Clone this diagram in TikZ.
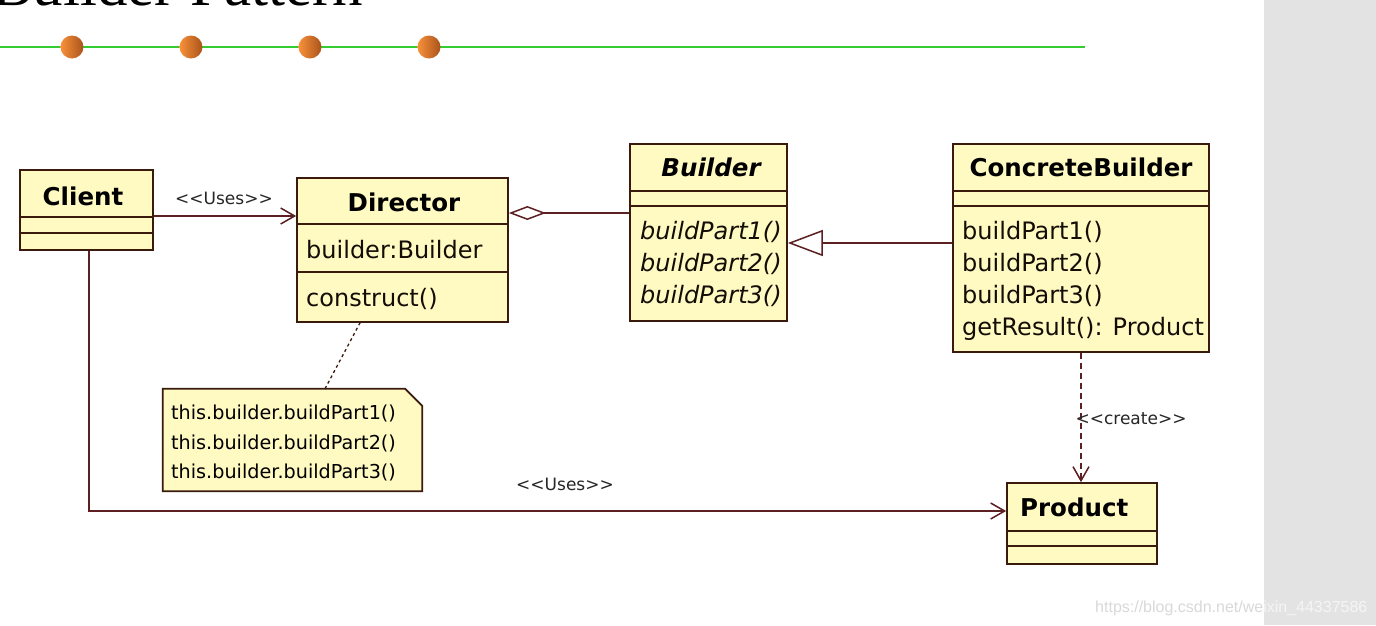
\documentclass[tikz,border=0pt]{standalone}
\usepackage{fontspec}
\usetikzlibrary{arrows.meta}
\newfontfamily\umlfont{DejaVu Sans}
\newfontfamily\titlefont{Liberation Serif}
\newfontfamily\wmfont{Liberation Sans}
\definecolor{boxfill}{HTML}{FFF9C2}
\definecolor{boxline}{HTML}{3A1A0C}
\definecolor{connline}{HTML}{5C1F22}
\definecolor{greenline}{HTML}{33CC33}
\definecolor{orangeL}{HTML}{F8913A}
\definecolor{orangeD}{HTML}{A9531B}
\definecolor{panelgray}{HTML}{E3E3E3}
\tikzset{
  classbox/.style={draw=boxline, fill=boxfill, line width=1.7pt, inner sep=0pt, rectangle},
  compline/.style={draw=boxline, line width=1.7pt},
  header/.style={font=\umlfont\bfseries\fontsize{24.5}{28}\selectfont, anchor=base, inner sep=0pt, text=black},
  member/.style={font=\umlfont\fontsize{24}{28}\selectfont, anchor=base west, inner sep=0pt, text=black!90!brown},
  imember/.style={member, font=\umlfont\itshape\fontsize{24}{28}\selectfont},
  notetext/.style={font=\umlfont\fontsize{19.2}{22}\selectfont, anchor=base west, inner sep=0pt, text=black},
  stereo/.style={font=\umlfont\fontsize{17}{20}\selectfont, inner sep=0pt, text=black!85},
  conn/.style={draw=connline, line width=1.6pt},
  openvee/.style={-{Straight Barb[length=14pt,width=16pt,line width=1.5pt]}},
}
\begin{document}
\begin{tikzpicture}[x=1pt,y=-1pt]
\useasboundingbox (0,0) rectangle (1376,625);
\clip (0,0) rectangle (1376,625);
\fill[white] (0,0) rectangle (1376,625);
% right gray panel
\fill[panelgray] (1264,0) rectangle (1376,625);
% title (cut off at top, as in the reference)
\node[font=\titlefont\fontsize{61}{70}\selectfont, anchor=base west, inner sep=0pt] (title) at (-8,5) {Builder Pattern};
% green line with orange dots
\draw[greenline, line width=1.6pt] (0,47) -- (1085,47);
\foreach \cx in {72,191,310,429}{
  \shade[left color=orangeL, right color=orangeD] (\cx,47) circle[radius=11.5pt];
}
% ---- classes ----
\node[classbox, minimum width=133pt, minimum height=80pt] (client) at (86.5,210) {};
\draw[compline] ([yshift=-48pt]client.north west) -- ([yshift=-48pt]client.north east);
\draw[compline] ([yshift=-64pt]client.north west) -- ([yshift=-64pt]client.north east);
\node[header] (clientT) at (83,205) {Client};

\node[classbox, minimum width=211pt, minimum height=144pt] (director) at (402.5,250) {};
\draw[compline] ([yshift=-47pt]director.north west) -- ([yshift=-47pt]director.north east);
\draw[compline] ([yshift=-95pt]director.north west) -- ([yshift=-95pt]director.north east);
\node[header] (directorT) at (404,211) {Director};
\node[member] (dirA) at (306,258) {builder:Builder};
\node[member] (dirM) at (306,306) {construct()};

\node[classbox, minimum width=157pt, minimum height=177pt] (builder) at (708.5,232.5) {};
\draw[compline] ([yshift=-48pt]builder.north west) -- ([yshift=-48pt]builder.north east);
\draw[compline] ([yshift=-63pt]builder.north west) -- ([yshift=-63pt]builder.north east);
\node[header, font=\umlfont\bfseries\itshape\fontsize{24.5}{28}\selectfont] (builderT) at (711,176) {Builder};
\node[imember] (bm1) at (640,239) {buildPart1()};
\node[imember] (bm2) at (640,271) {buildPart2()};
\node[imember] (bm3) at (640,303) {buildPart3()};

\node[classbox, minimum width=256pt, minimum height=208pt] (cb) at (1081,248) {};
\draw[compline] ([yshift=-48pt]cb.north west) -- ([yshift=-48pt]cb.north east);
\draw[compline] ([yshift=-63pt]cb.north west) -- ([yshift=-63pt]cb.north east);
\node[header] (cbT) at (1081,176) {ConcreteBuilder};
\node[member] (cm1) at (962,239) {buildPart1()};
\node[member] (cm2) at (962,271) {buildPart2()};
\node[member] (cm3) at (962,303) {buildPart3()};
\node[member] (cm4) at (962,335) {getResult(): Product};

\node[classbox, minimum width=150pt, minimum height=81pt] (product) at (1082,523.5) {};
\draw[compline] ([yshift=-49pt]product.north west) -- ([yshift=-49pt]product.north east);
\draw[compline] ([yshift=-64pt]product.north west) -- ([yshift=-64pt]product.north east);
\node[header, anchor=base west] (productT) at (1020,516) {Product};

% ---- note ----
\node[minimum width=259pt, minimum height=102pt, inner sep=0pt] (note) at (292.5,440) {};
\draw[classbox] (note.north west) -- ([xshift=-17pt]note.north east) -- ([yshift=-17pt]note.north east) -- (note.south east) -- (note.south west) -- cycle;
\node[notetext] (n1) at (171,419) {this.builder.buildPart1()};
\node[notetext] (n2) at (171,449) {this.builder.buildPart2()};
\node[notetext] (n3) at (171,478) {this.builder.buildPart3()};

% ---- connectors ----
% Client uses Director
\coordinate (u1) at ([yshift=-6pt]client.east);
\draw[conn, openvee] (u1) -- (u1 -| director.west);
\node[stereo] (usesA) at (224,198) {{<}{<}Uses{>}{>}};
% Director aggregation Builder
\coordinate (a1) at ([yshift=37pt]director.east);
\draw[conn, {Diamond[open,length=37pt,width=14pt,line width=1.5pt]}-] (a1) -- (a1 -| builder.west);
% ConcreteBuilder generalization Builder
\coordinate (g1) at ([yshift=5pt]cb.west);
\draw[conn, -{Triangle[open,length=35pt,width=26pt,line width=1.5pt]}] (g1) -- (g1 -| builder.east);
% ConcreteBuilder creates Product
\draw[conn, dash pattern=on 6pt off 4pt, openvee] (cb.south) -- (cb.south |- product.north);
\node[stereo] (createL) at (1131,419) {{<}{<}create{>}{>}};
% Client uses Product
\coordinate (c2) at ([xshift=2.5pt]client.south);
\coordinate (p1) at ([yshift=12.5pt]product.west);
\draw[conn, openvee] (c2) |- (p1);
\node[stereo] (usesB) at (565,484) {{<}{<}Uses{>}{>}};
% note anchor
\draw[draw=boxline, line width=1.3pt, dash pattern=on 3pt off 3pt] ([xshift=32.5pt]note.north) -- ([xshift=-42.5pt]director.south);

% watermark
\begin{scope}
\clip (0,580) rectangle (1264,625);
\node[font=\wmfont\fontsize{16}{18}\selectfont, text=black!15, anchor=base west, inner sep=0pt] (wm) at (1095,612) {https://blog.csdn.net/weixin\_44337586};
\end{scope}
\begin{scope}
\clip (1264,580) rectangle (1376,625);
\node[font=\wmfont\fontsize{16}{18}\selectfont, text=black!4, anchor=base west, inner sep=0pt] (wm2) at (1095,612) {https://blog.csdn.net/weixin\_44337586};
\end{scope}
\end{tikzpicture}
\end{document}
